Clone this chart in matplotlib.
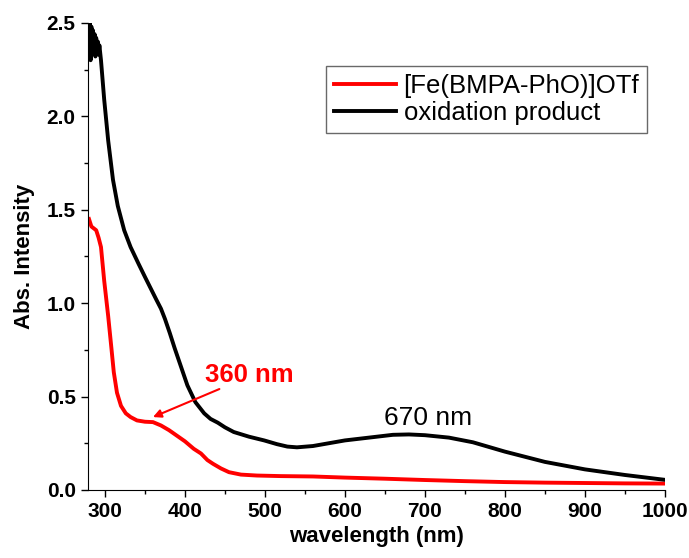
import numpy as np
import matplotlib
matplotlib.use("Agg")
from matplotlib import pyplot as plt
from matplotlib.ticker import MultipleLocator

plt.rcParams['font.family'] = ['Liberation Sans', 'DejaVu Sans']

# red: [Fe(BMPA-PhO)]OTf
wl_red = [280, 283, 286, 289, 292, 295, 299, 304, 308, 311, 315, 320, 326, 332, 340,
          350, 360, 370, 380, 390, 400, 411, 420, 428, 435, 445, 455, 470, 490,
          520, 560, 600, 650, 700, 750, 800, 850, 900, 950, 1000]
abs_red = [1.45, 1.41, 1.40, 1.39, 1.35, 1.30, 1.12, 0.93, 0.76, 0.63, 0.52, 0.45, 0.41,
           0.39, 0.372, 0.365, 0.363, 0.345, 0.32, 0.29, 0.26, 0.22, 0.195, 0.16, 0.14,
           0.115, 0.095, 0.082, 0.077, 0.074, 0.072, 0.066, 0.06, 0.053, 0.047, 0.042,
           0.039, 0.037, 0.035, 0.034]

# black: oxidation product
wl_blk = [280, 281, 282, 283, 284, 285, 286, 287, 288, 289, 290, 291, 292, 293, 295,
          299, 304, 310, 316, 324, 332, 342, 350, 357, 364, 370, 375, 381, 387, 395,
          403, 413, 424, 432, 441, 450, 461, 480, 499, 515, 528, 540, 560, 580, 600,
          630, 660, 680, 700, 730, 760, 800, 850, 900, 950, 1000]
abs_blk = [2.35, 2.5, 2.3, 2.48, 2.34, 2.46, 2.35, 2.44, 2.32, 2.42, 2.36, 2.40, 2.33,
           2.38, 2.30, 2.09, 1.87, 1.66, 1.52, 1.39, 1.30, 1.21, 1.14, 1.08, 1.02,
           0.97, 0.915, 0.84, 0.76, 0.66, 0.56, 0.47, 0.41, 0.38, 0.36, 0.335, 0.31,
           0.285, 0.265, 0.245, 0.232, 0.228, 0.235, 0.25, 0.265, 0.28, 0.295, 0.297,
           0.293, 0.28, 0.255, 0.205, 0.15, 0.11, 0.08, 0.054]

fig = plt.figure(figsize=(6.89, 5.58), dpi=100)
ax = fig.add_axes([0.128, 0.122, 0.837, 0.837])

ax.plot(wl_red, abs_red, color='#ff0000', lw=2.8, label='[Fe(BMPA-PhO)]OTf')
ax.plot(wl_blk, abs_blk, color='black', lw=2.8, label='oxidation product')

ax.set_xlim(279, 1000)
ax.set_ylim(0, 2.5)
ax.xaxis.set_major_locator(MultipleLocator(100))
ax.xaxis.set_minor_locator(MultipleLocator(50))
ax.yaxis.set_major_locator(MultipleLocator(0.5))
ax.yaxis.set_minor_locator(MultipleLocator(0.25))
ax.spines['top'].set_visible(False)
ax.spines['right'].set_visible(False)
ax.tick_params(which='major', direction='out', length=5, width=1, labelsize=15, pad=4)
ax.tick_params(which='minor', direction='out', length=3, width=1)
for lab in ax.get_xticklabels() + ax.get_yticklabels():
    lab.set_fontweight('bold')

ax.set_xlabel('wavelength (nm)', fontsize=16, fontweight='bold', labelpad=3)
ax.set_ylabel('Abs. Intensity', fontsize=16, fontweight='bold', labelpad=8)

leg = ax.legend(loc='upper right', bbox_to_anchor=(0.969, 0.908), fontsize=18.5,
                frameon=True, fancybox=False, edgecolor='#444444',
                handlelength=2.4, handletextpad=0.3, borderpad=0.3,
                labelspacing=0.15, borderaxespad=0)
leg.get_frame().set_linewidth(1.0)

ax.annotate('', xy=(360, 0.39), xytext=(443, 0.54),
            arrowprops=dict(arrowstyle='-|>', color='#ff0000', lw=1.5,
                            shrinkA=0, shrinkB=0, mutation_scale=12))
ax.text(481, 0.616, '360 nm', color='#ff0000', fontsize=18.5, fontweight='bold',
        ha='center', va='center')
ax.text(704, 0.32, '670 nm', fontsize=19, ha='center', va='bottom')

fig.savefig('out.png', dpi=100)
